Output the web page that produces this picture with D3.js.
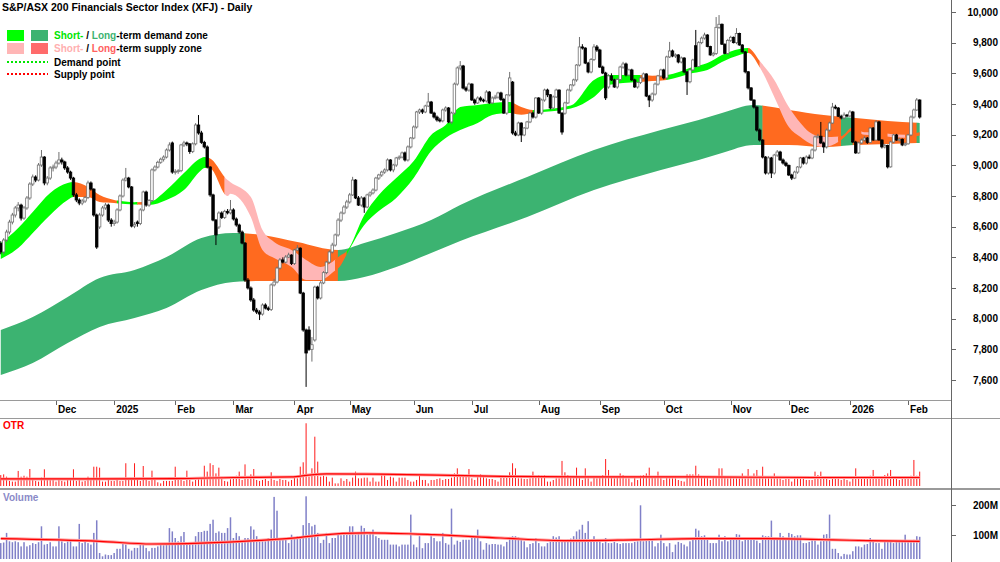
<!DOCTYPE html>
<html>
<head>
<meta charset="utf-8">
<title>XFJ Daily</title>
<script src="https://cdn.jsdelivr.net/npm/d3@7"></script>
<style>
  html, body { margin: 0; padding: 0; background: #fff; }
  svg { display: block; font-family: Arial, "Liberation Sans", sans-serif; }
</style>
</head>
<body>
<div id="chart"></div>
<script>
// Daily candles, 5 Nov 2024 .. 6 Feb 2026 (index = trading day)
const opens = [
  8490,8435,8513,8565,8630,8676,8722,8741,8656,8722,
  8787,8878,8924,8904,9002,9054,8885,8917,8983,8989,
  9015,9035,9022,8983,8956,8917,8807,8774,8754,8767,
  8790,8885,8845,8676,8598,8676,8722,8741,8643,8620,
  8630,8709,8800,8904,8917,8859,8604,8630,8620,8709,
  8826,8741,8770,8970,8989,9020,9040,9054,9100,9146,
  8956,8960,8965,9133,9146,9140,9090,9140,9263,9211,
  9150,9120,8989,8807,8643,8598,8689,8660,8700,8690,
  8709,8650,8611,8565,8493,8252,8200,8122,8056,8043,
  8030,8089,8069,8060,8220,8239,8330,8383,8369,8402,
  8415,8360,8448,8460,8167,7926,7926,7800,7861,8206,
  8135,8233,8300,8369,8435,8480,8546,8643,8689,8728,
  8761,8807,8904,8787,8741,8787,8728,8807,8820,8839,
  8917,8937,8956,8970,9035,8970,9002,9048,9054,9081,
  9035,9120,9178,9250,9348,9361,9348,9387,9413,9341,
  9315,9296,9290,9361,9374,9283,9341,9530,9635,9648,
  9504,9491,9530,9426,9407,9439,9426,9420,9478,9407,
  9439,9445,9472,9430,9341,9459,9543,9211,9198,9276,
  9198,9243,9283,9341,9315,9439,9341,9426,9491,9460,
  9374,9446,9491,9341,9340,9407,9491,9524,9557,9654,
  9772,9765,9667,9609,9690,9772,9752,9641,9602,9511,
  9583,9557,9511,9560,9641,9661,9589,9622,9557,9511,
  9540,9570,9596,9452,9426,9465,9530,9583,9622,9570,
  9707,9746,9713,9720,9674,9700,9609,9545,9622,9780,
  9645,9800,9830,9850,9775,9720,9730,9900,9920,9790,
  9730,9815,9835,9800,9860,9785,9740,9610,9505,9426,
  9380,9230,9165,9054,8950,9048,8950,9067,9087,9035,
  9015,9000,8937,8917,8956,8989,9048,9015,9054,9048,
  9100,9185,9190,9146,9120,9230,9276,9380,9374,9320,
  9309,9328,9322,9348,9152,9081,9146,9165,9178,9150,
  9243,9165,9283,9165,9120,9130,8990,9152,9198,9165,
  9170,9133,9140,9198,9315,9361,9426
];
const highs = [
  8505,8525,8580,8645,8690,8735,8760,8750,8735,8800,
  8890,8940,8935,9015,9100,9060,8930,8995,9005,9030,
  9087,9050,9030,8995,8965,8925,8820,8785,8780,8800,
  8900,8895,8850,8685,8690,8735,8755,8750,8655,8645,
  8720,8810,8915,8983,8925,8865,8630,8640,8720,8835,
  8835,8780,8980,9000,9030,9050,9065,9110,9150,9155,
  8975,8975,9140,9160,9155,9145,9150,9275,9328,9225,
  9160,9130,8995,8815,8650,8700,8700,8710,8715,8774,
  8720,8660,8620,8575,8500,8265,8210,8135,8070,8055,
  8100,8100,8080,8230,8260,8340,8395,8400,8415,8430,
  8420,8455,8480,8465,8175,7935,7950,7880,8215,8215,
  8245,8310,8375,8445,8495,8555,8655,8700,8740,8775,
  8820,8925,8910,8800,8800,8795,8815,8830,8850,8925,
  8945,8965,8980,9045,9040,9010,9055,9065,9090,9090,
  9130,9185,9260,9355,9370,9370,9395,9472,9420,9350,
  9325,9310,9370,9385,9380,9350,9540,9645,9680,9655,
  9515,9540,9535,9435,9450,9450,9435,9490,9485,9450,
  9460,9480,9480,9440,9465,9609,9550,9225,9285,9280,
  9250,9290,9350,9350,9445,9445,9435,9500,9500,9465,
  9455,9500,9495,9345,9415,9500,9530,9565,9660,9837,
  9790,9770,9675,9700,9790,9785,9760,9650,9610,9595,
  9600,9565,9570,9650,9675,9670,9630,9630,9565,9545,
  9580,9605,9600,9460,9475,9540,9590,9630,9630,9715,
  9805,9755,9730,9725,9710,9705,9615,9630,9695,9883,
  9810,9840,9865,9855,9780,9740,9967,9980,9925,9795,
  9825,9845,9840,9895,9865,9790,9745,9615,9510,9430,
  9385,9240,9170,9060,9060,9055,9075,9100,9095,9045,
  9025,9005,8945,8965,8995,9055,9055,9065,9070,9110,
  9195,9205,9283,9155,9240,9285,9407,9395,9380,9330,
  9345,9335,9360,9355,9160,9155,9175,9190,9185,9250,
  9250,9295,9290,9170,9140,9135,9160,9205,9205,9180,
  9175,9150,9205,9325,9370,9439,9430
];
const lows = [
  8420,8420,8500,8550,8615,8660,8700,8640,8645,8710,
  8775,8865,8890,8895,8990,8870,8870,8905,8960,8975,
  9005,9005,8970,8945,8905,8795,8760,8740,8740,8755,
  8780,8835,8665,8455,8585,8665,8710,8630,8600,8605,
  8620,8700,8790,8895,8850,8595,8590,8600,8610,8700,
  8730,8730,8760,8960,8980,9010,9025,9045,9090,8945,
  8940,8945,8955,9120,9125,9075,9080,9130,9200,9140,
  9110,8980,8795,8635,8480,8585,8650,8650,8680,8680,
  8640,8600,8555,8485,8240,8190,8110,8045,8030,7991,
  8020,8060,8050,8050,8210,8230,8320,8360,8360,8395,
  8350,8350,8440,8160,7915,7555,7790,7720,7850,8125,
  8125,8225,8290,8360,8425,8470,8535,8630,8680,8715,
  8750,8800,8780,8735,8730,8690,8720,8795,8810,8830,
  8905,8925,8945,8960,8960,8955,8990,9035,9045,9025,
  9025,9110,9170,9240,9335,9335,9340,9380,9335,9305,
  9285,9280,9280,9350,9275,9270,9330,9520,9620,9495,
  9480,9480,9420,9395,9400,9415,9410,9410,9400,9400,
  9430,9435,9420,9335,9330,9450,9200,9190,9190,9152,
  9190,9235,9275,9305,9305,9335,9330,9415,9445,9365,
  9365,9440,9335,9200,9330,9400,9480,9515,9545,9645,
  9755,9660,9600,9600,9680,9740,9635,9595,9426,9500,
  9550,9505,9500,9550,9630,9580,9580,9550,9505,9500,
  9530,9560,9445,9380,9415,9455,9520,9575,9560,9560,
  9700,9705,9700,9665,9665,9600,9459,9535,9615,9640,
  9640,9790,9820,9770,9715,9710,9720,9890,9785,9725,
  9720,9805,9795,9790,9780,9735,9600,9495,9420,9370,
  9220,9155,9045,8940,8940,8917,8940,9055,9030,9005,
  8990,8930,8904,8910,8945,8980,9005,9005,9040,9040,
  9090,9175,9140,9081,9110,9220,9270,9365,9315,9300,
  9300,9315,9315,9145,9075,9075,9140,9155,9140,9145,
  9160,9160,9160,9110,9110,8980,8985,9145,9160,9155,
  9125,9125,9135,9190,9305,9355,9305
];
const closes = [
  8435,8513,8565,8630,8676,8722,8741,8656,8722,8787,
  8878,8924,8904,9002,9054,8885,8917,8983,8989,9015,
  9035,9022,8983,8956,8917,8807,8774,8754,8767,8790,
  8885,8845,8676,8467,8676,8722,8741,8643,8620,8630,
  8709,8800,8904,8917,8859,8604,8615,8620,8709,8826,
  8741,8770,8970,8989,9020,9040,9054,9100,9133,8956,
  8960,8965,9133,9146,9140,9090,9140,9263,9211,9150,
  9120,8989,8807,8643,8546,8689,8660,8700,8690,8709,
  8650,8611,8565,8493,8252,8200,8122,8056,8043,8030,
  8089,8069,8060,8220,8239,8330,8383,8369,8402,8415,
  8360,8448,8460,8167,7926,7776,7800,7830,8206,8135,
  8233,8300,8369,8435,8480,8546,8643,8689,8728,8761,
  8807,8904,8787,8741,8787,8728,8807,8820,8839,8917,
  8937,8956,8970,9035,8970,9002,9048,9054,9081,9035,
  9120,9178,9250,9348,9361,9348,9387,9413,9341,9315,
  9296,9290,9361,9374,9283,9341,9530,9635,9648,9504,
  9491,9530,9426,9407,9439,9426,9420,9478,9407,9439,
  9445,9472,9430,9341,9459,9570,9211,9198,9276,9198,
  9243,9283,9341,9315,9439,9341,9426,9491,9460,9374,
  9446,9491,9341,9217,9407,9491,9524,9557,9654,9772,
  9765,9667,9609,9690,9772,9752,9641,9602,9440,9583,
  9557,9511,9560,9641,9661,9589,9622,9557,9511,9540,
  9570,9596,9452,9426,9465,9530,9583,9622,9570,9707,
  9746,9713,9720,9674,9700,9609,9545,9622,9687,9645,
  9800,9830,9850,9775,9720,9730,9900,9920,9790,9730,
  9815,9835,9800,9860,9785,9740,9610,9505,9426,9380,
  9230,9165,9054,8950,9048,8950,9067,9087,9035,9015,
  9000,8937,8917,8956,8989,9048,9015,9054,9048,9100,
  9185,9190,9146,9120,9230,9276,9380,9374,9320,9309,
  9328,9322,9348,9152,9081,9146,9165,9178,9150,9243,
  9165,9283,9165,9120,9130,8990,9152,9198,9165,9170,
  9133,9140,9198,9315,9361,9426,9315
];

// Volume in millions of shares
const volumes = [
  73,75,107,79,76,79,76,62,76,62,
  66,73,70,76,129,68,70,76,62,62,
  129,79,73,79,81,62,62,137,73,84,
  73,68,107,149,40,29,35,33,33,40,
  54,54,70,68,54,48,57,57,70,68,
  57,46,57,57,62,68,66,72,123,112,
  90,79,96,110,68,73,70,96,110,110,
  114,114,137,151,107,112,107,107,123,159,
  90,107,96,81,90,90,129,118,96,79,
  79,79,90,118,227,181,90,88,88,73,
  101,90,96,96,133,229,140,129,134,107,
  73,84,107,73,90,90,101,99,101,101,
  129,129,101,107,131,123,101,107,118,96,
  90,84,84,84,68,68,68,62,68,68,
  68,168,68,59,96,56,73,73,96,90,
  79,79,107,73,68,188,68,81,77,84,
  84,84,99,96,118,79,51,73,68,70,
  70,68,68,62,77,88,96,96,92,84,
  79,59,70,73,90,73,62,62,73,79,
  96,92,96,81,81,84,88,96,112,118,
  134,107,146,84,96,84,84,73,90,73,
  73,77,73,70,73,73,73,73,77,79,
  199,79,84,90,90,62,73,101,73,62,
  73,43,68,77,73,68,62,79,84,121,
  115,96,99,90,73,73,73,101,79,96,
  79,90,90,103,101,79,88,92,92,90,
  81,73,99,96,96,148,90,90,107,96,
  84,107,103,96,99,99,73,73,77,84,
  84,68,79,101,103,168,54,54,40,29,
  37,35,35,46,62,62,59,68,70,90,
  79,73,73,54,81,81,81,73,77,81,
  81,101,81,79,84,96,94
];

// OTR (daily range, index points)
const otr = [
  80,85,68,37,32,32,110,68,75,68,
  124,56,37,32,61,122,44,44,44,32,
  44,37,32,44,44,122,37,44,32,37,
  68,44,141,141,134,32,32,44,37,37,
  44,37,37,166,44,56,166,56,37,146,
  56,37,112,56,27,19,37,37,37,37,
  141,44,61,37,112,44,32,44,56,61,
  148,105,166,153,92,134,61,37,32,49,
  68,75,105,44,158,51,85,124,44,37,
  44,51,37,100,44,37,51,44,44,32,
  44,61,56,141,173,458,68,129,360,178,
  68,75,68,32,61,19,19,56,37,51,
  32,61,105,56,56,61,61,32,61,32,
  32,85,85,44,68,61,32,61,61,61,
  44,32,32,44,80,44,44,19,44,44,
  51,56,44,51,51,61,92,129,68,68,
  68,124,56,44,68,85,68,56,51,51,
  44,32,68,75,80,100,166,129,56,56,
  51,51,56,105,61,80,75,80,32,32,
  44,56,56,183,100,80,61,56,134,61,
  44,129,56,32,61,56,68,80,197,117,
  61,56,61,92,80,56,56,27,61,44,
  75,80,92,134,61,68,105,61,44,61,
  56,56,56,44,37,32,85,85,85,148,
  85,61,68,61,44,61,61,129,129,61,
  56,61,56,56,56,92,56,124,61,92,
  117,68,141,61,61,68,92,61,56,44,
  51,51,32,61,61,56,56,44,44,44,
  105,80,105,56,68,44,56,56,56,44,
  56,44,32,61,129,61,61,68,68,75,
  117,68,68,68,80,92,117,61,56,44,
  56,56,61,75,190,75,105
];

// Moving averages of the lower panels (trading-day index, value)
const volMaIdx = [0, 34, 52, 69, 92, 103, 109, 126, 149, 172, 195, 218, 240, 263, 286, 298, 316];
const volMa    = [88, 79, 70, 73, 84, 92, 99, 107, 101, 90, 81, 84, 88, 88, 84, 81, 79];
const otrMaIdx = [0, 30, 60, 80, 100, 106, 112, 130, 150, 172, 200, 240, 280, 316];
const otrMa    = [52, 52, 54, 62, 66, 80, 88, 86, 80, 70, 66, 66, 62, 62];

// Long-term zone edges
const longIdx   = [0, 11, 23, 34, 46, 57, 69, 80, 90, 102, 116, 125, 136, 148, 158, 181, 204, 227, 240, 248, 259, 271, 283, 294, 305, 316];
const longUpper = [7926, 8011, 8141, 8265, 8317, 8402, 8526, 8559, 8546, 8500, 8448, 8493, 8559, 8643, 8741, 8924, 9100, 9230, 9296, 9341, 9393, 9361, 9328, 9309, 9289, 9276];
const longLower = [7633, 7711, 7841, 7946, 8004, 8070, 8187, 8239, 8246, 8246, 8246, 8272, 8337, 8428, 8506, 8663, 8839, 8970, 9035, 9081, 9133, 9133, 9120, 9133, 9139, 9146];

// Short-term zone edges
const shortIdx = [0, 6, 11, 17, 23, 25, 30, 34, 39, 46, 51, 57, 63, 69, 70, 72, 78, 79, 86, 90,
  94, 100, 105, 110, 114, 117, 119, 125, 130, 136, 142, 148, 153, 158, 164, 169, 175, 179, 183, 196,
  204, 209, 219, 224, 229, 238, 243, 248, 254, 257, 261, 266, 271, 275, 278, 283, 289, 293, 297, 302,
  306, 311, 316];
const shortUpper = [8493, 8591, 8696, 8820, 8885, 8891, 8859, 8806, 8774, 8760, 8761, 8839, 8950, 9048, 9054, 9045, 8904, 8890, 8793, 8578,
  8500, 8448, 8383, 8337, 8370, 8415, 8440, 8676, 8806, 8917, 9028, 9198, 9263, 9380, 9393, 9407, 9413, 9380, 9361, 9390,
  9557, 9589, 9589, 9585, 9589, 9641, 9667, 9720, 9759, 9765, 9680, 9557, 9380, 9276, 9217, 9185, 9190, 9250, 9215, 9215,
  9205, 9200, 9215];
const shortLower = [8389, 8461, 8559, 8676, 8774, 8793, 8793, 8761, 8754, 8745, 8741, 8774, 8839, 8970, 8983, 8980, 8800, 8815, 8663, 8448,
  8395, 8337, 8252, 8252, 8300, 8350, 8420, 8611, 8702, 8787, 8917, 9093, 9178, 9230, 9276, 9328, 9341, 9330, 9341, 9370,
  9446, 9524, 9543, 9550, 9557, 9602, 9622, 9674, 9720, 9733, 9640, 9446, 9250, 9185, 9146, 9120, 9165, 9225, 9200, 9195,
  9185, 9180, 9195];

// zone state by index range: demand / supply / turning
const longZones = [[0, 84, "demand"], [84, 116, "supply"], [116, 262, "demand"], [262, 289, "supply"],
  [289, 293, "demand"], [293, 315, "supply"], [315, 316, "demand"]];
const shortZones = [[0, 25, "demand"], [25, 40, "turn"], [40, 47, "demand"], [47, 51, "turn"], [51, 71, "demand"],
  [71, 77, "turn"], [77, 115, "supply"], [115, 119, "turn"], [119, 176, "demand"], [176, 183, "turn"],
  [183, 220, "demand"], [220, 229, "turn"], [229, 257, "demand"], [257, 261, "turn"], [261, 288, "supply"],
  [288, 296, "turn"], [296, 300, "supply"], [300, 305, "turn"], [305, 311, "supply"], [311, 316, "turn"]];

// axis labels
const monthLabels = ["Dec", "2025", "Feb", "Mar", "Apr", "May", "Jun", "Jul", "Aug", "Sep", "Oct", "Nov", "Dec", "2026", "Feb"];
const monthStart  = [19, 39, 60, 80, 101, 120, 142, 162, 185, 206, 228, 251, 271, 292, 312];
const priceTicks  = [7600, 7800, 8000, 8200, 8400, 8600, 8800, 9000, 9200, 9400, 9600, 9800, 10000];
const volumeTicks = [100, 200];

function drawChart() {
    const W = 1000, H = 562;
    const axisX = 951;

    const svg = d3.select("#chart").append("svg")
        .attr("width", W)
        .attr("height", H);

    // Scales
    const x = d3.scaleLinear().domain([0, closes.length - 1]).range([0.75, 919.7]);
    const y = d3.scaleLinear().domain([7600, 10000]).range([380, 12]);
    const yOtr = d3.scaleLinear().domain([0, 460]).range([486, 423]);
    const yVol = d3.scaleLinear().domain([0, 200]).range([565, 505]);

    const defs = svg.append("defs");
    defs.append("clipPath").attr("id", "clip-main")
        .append("rect").attr("x", 0).attr("y", 0).attr("width", axisX).attr("height", 400);
    defs.append("clipPath").attr("id", "clip-otr")
        .append("rect").attr("x", 0).attr("y", 419).attr("width", axisX).attr("height", 69);
    defs.append("clipPath").attr("id", "clip-vol")
        .append("rect").attr("x", 0).attr("y", 490).attr("width", axisX).attr("height", 69);

    const main = svg.append("g").attr("clip-path", "url(#clip-main)");

    // zone bands, coloured per segment
    const zoneColor = {
        long: { demand: "#3cb371", supply: "#ff6a1f" },
        short: { demand: "#00ff00", supply: "#ffb6b6", turn: "#ff6a1f" }
    };

    function drawBand(name, idx, upper, lower, zones) {
        const pts = idx.map((v, k) => ({ i: v, hi: upper[k], lo: lower[k] }));
        const area = d3.area()
            .x(d => x(d.i))
            .y0(d => y(d.lo))
            .y1(d => y(d.hi))
            .curve(d3.curveMonotoneX);
        zones.forEach((z, k) => {
            const id = `clip-${name}-${k}`;
            const x0 = k === 0 ? -5 : x(z[0]) - 0.2;
            const x1 = k === zones.length - 1 ? axisX : x(z[1]) + 0.2;
            defs.append("clipPath").attr("id", id)
                .append("rect").attr("x", x0).attr("y", 0).attr("width", x1 - x0).attr("height", 400);
            main.append("path")
                .datum(pts)
                .attr("clip-path", `url(#${id})`)
                .attr("d", area)
                .style("fill", zoneColor[name][z[2]])
                .style("stroke", "none");
        });
    }

    drawBand("long", longIdx, longUpper, longLower, longZones);
    drawBand("short", shortIdx, shortUpper, shortLower, shortZones);

    // Candles
    const candles = closes.map((c, i) => ({ i, o: opens[i], h: highs[i], l: lows[i], c }));
    const cg = main.append("g").attr("class", "candles");
    const upStroke = "#707070";

    cg.selectAll(".wick")
        .data(candles)
        .enter().append("line")
        .attr("x1", d => x(d.i)).attr("x2", d => x(d.i))
        .attr("y1", d => y(d.h)).attr("y2", d => y(d.l))
        .style("stroke", d => d.c >= d.o ? upStroke : "#000")
        .style("stroke-width", 1);

    cg.selectAll(".body")
        .data(candles)
        .enter().append("rect")
        .attr("x", d => x(d.i) - 1.25)
        .attr("width", 2.5)
        .attr("y", d => y(Math.max(d.o, d.c)))
        .attr("height", d => Math.max(1, Math.abs(y(d.o) - y(d.c))))
        .style("fill", d => d.c >= d.o ? "#fff" : "#000")
        .style("stroke", d => d.c >= d.o ? upStroke : "#000")
        .style("stroke-width", 0.8);

    // panel frame lines
    const grey = "#9a9a9a";
    svg.append("line").attr("x1", 0).attr("x2", axisX).attr("y1", 400.5).attr("y2", 400.5)
        .style("stroke", grey).style("stroke-width", 1);
    svg.append("line").attr("x1", 0).attr("x2", W).attr("y1", 418.5).attr("y2", 418.5)
        .style("stroke", grey).style("stroke-width", 1);
    svg.append("line").attr("x1", 0).attr("x2", W).attr("y1", 489).attr("y2", 489)
        .style("stroke", grey).style("stroke-width", 2);
    svg.append("line").attr("x1", axisX + 0.5).attr("x2", axisX + 0.5).attr("y1", 0).attr("y2", H)
        .style("stroke", "#666").style("stroke-width", 1);

    // Price axis (right)
    const yAxis = svg.append("g").attr("class", "y axis");
    yAxis.selectAll(".tick")
        .data(priceTicks)
        .enter().append("line")
        .attr("x1", axisX + 1).attr("x2", axisX + 5)
        .attr("y1", d => Math.round(y(d)) + 0.5).attr("y2", d => Math.round(y(d)) + 0.5)
        .style("stroke", "#666");
    yAxis.selectAll("text")
        .data(priceTicks)
        .enter().append("text")
        .attr("x", 998)
        .attr("y", d => y(d) + 3.5)
        .style("text-anchor", "end")
        .style("font-size", "10px")
        .style("font-weight", "bold")
        .text(d => d3.format(",")(d));

    // Month axis
    const xAxis = svg.append("g").attr("class", "x axis");
    xAxis.selectAll("line")
        .data(monthStart)
        .enter().append("line")
        .attr("x1", d => Math.round(x(d)) + 0.5).attr("x2", d => Math.round(x(d)) + 0.5)
        .attr("y1", 401).attr("y2", 405)
        .style("stroke", "#666");
    xAxis.selectAll("text")
        .data(monthLabels)
        .enter().append("text")
        .attr("x", (d, k) => x(monthStart[k]) + 2)
        .attr("y", 413)
        .style("font-size", "10px")
        .style("font-weight", "bold")
        .text(d => d);

    // OTR panel
    const og = svg.append("g").attr("clip-path", "url(#clip-otr)");
    og.selectAll(".otr")
        .data(otr)
        .enter().append("line")
        .attr("x1", (d, i) => x(i)).attr("x2", (d, i) => x(i))
        .attr("y1", yOtr(0)).attr("y2", d => yOtr(d))
        .style("stroke", "#ff1a1a")
        .style("stroke-width", 1);

    const otrLine = d3.line()
        .x((d, k) => x(otrMaIdx[k]))
        .y(d => yOtr(d))
        .curve(d3.curveMonotoneX);
    og.append("path").attr("d", otrLine(otrMa))
        .style("fill", "none").style("stroke", "#ff9a9a").style("stroke-width", 3);
    og.append("path").attr("d", otrLine(otrMa))
        .style("fill", "none").style("stroke", "#ff0000").style("stroke-width", 1.2);

    svg.append("text")
        .attr("x", 3).attr("y", 429)
        .style("fill", "#ff0000")
        .style("font-size", "10px")
        .style("font-weight", "bold")
        .text("OTR");

    // Volume panel
    const vg = svg.append("g").attr("clip-path", "url(#clip-vol)");
    vg.selectAll(".vol")
        .data(volumes)
        .enter().append("rect")
        .attr("x", (d, i) => x(i) - 0.75)
        .attr("width", 1.5)
        .attr("y", d => yVol(d))
        .attr("height", d => yVol(0) - yVol(d))
        .style("fill", "#8080c8");

    const volLine = d3.line()
        .x((d, k) => x(volMaIdx[k]))
        .y(d => yVol(d))
        .curve(d3.curveMonotoneX);
    vg.append("path").attr("d", volLine(volMa))
        .style("fill", "none").style("stroke", "#ff9a9a").style("stroke-width", 3);
    vg.append("path").attr("d", volLine(volMa))
        .style("fill", "none").style("stroke", "#ff0000").style("stroke-width", 1.2);

    svg.append("text")
        .attr("x", 3).attr("y", 501)
        .style("fill", "#8a8ac8")
        .style("font-size", "10px")
        .style("font-weight", "bold")
        .text("Volume");

    const vAxis = svg.append("g").attr("class", "v axis");
    vAxis.selectAll("line")
        .data(volumeTicks)
        .enter().append("line")
        .attr("x1", axisX + 1).attr("x2", axisX + 5)
        .attr("y1", d => Math.round(yVol(d)) + 0.5).attr("y2", d => Math.round(yVol(d)) + 0.5)
        .style("stroke", "#666");
    vAxis.selectAll("text")
        .data(volumeTicks)
        .enter().append("text")
        .attr("x", 998)
        .attr("y", d => yVol(d) + 3.5)
        .style("text-anchor", "end")
        .style("font-size", "10px")
        .style("font-weight", "bold")
        .text(d => d + "M");

    // Title
    svg.append("text")
        .attr("x", 2).attr("y", 11)
        .style("font-size", "10.5px")
        .style("font-weight", "bold")
        .text("S&P/ASX 200 Financials Sector Index (XFJ) - Daily");

    // Legend
    const legend = svg.append("g").attr("class", "legend")
        .style("font-size", "10px").style("font-weight", "bold");

    const zoneRows = [
        { y: 30, c1: "#00ff00", c2: "#3cb371", t1: "#00e600", t2: "#3cb371", rest: "-term demand zone" },
        { y: 43, c1: "#ffb6b6", c2: "#ff6b6b", t1: "#ffb0b0", t2: "#ff6060", rest: "-term supply zone" }
    ];
    zoneRows.forEach(r => {
        legend.append("rect").attr("x", 7).attr("y", r.y).attr("width", 17).attr("height", 11).style("fill", r.c1);
        legend.append("rect").attr("x", 31).attr("y", r.y).attr("width", 17).attr("height", 11).style("fill", r.c2);
        const t = legend.append("text").attr("x", 54).attr("y", r.y + 9);
        t.append("tspan").style("fill", r.t1).text("Short-");
        t.append("tspan").style("fill", "#000").text(" / ");
        t.append("tspan").style("fill", r.t2).text("Long");
        t.append("tspan").style("fill", "#000").text(r.rest);
    });

    const pointRows = [
        { y: 62, color: "#00e600", label: "Demand point" },
        { y: 74, color: "#ff0000", label: "Supply point" }
    ];
    pointRows.forEach(r => {
        legend.append("line")
            .attr("x1", 7).attr("x2", 48).attr("y1", r.y).attr("y2", r.y)
            .style("stroke", r.color)
            .style("stroke-width", 2)
            .style("stroke-dasharray", "2,2");
        legend.append("text").attr("x", 54).attr("y", r.y + 4).text(r.label);
    });
}

drawChart();
</script>
</body>
</html>
